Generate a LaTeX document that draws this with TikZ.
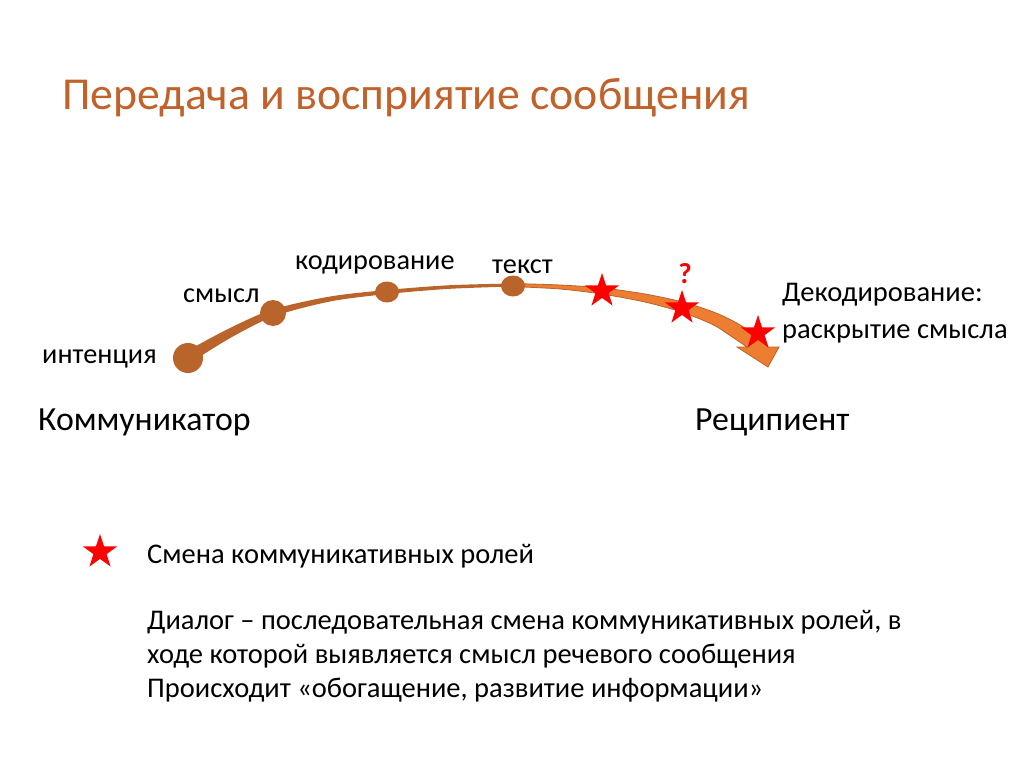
\documentclass[tikz,border=0pt]{standalone}
\usepackage{fontspec}
\setmainfont{Carlito}
\usetikzlibrary{shapes.geometric}
\definecolor{titlec}{RGB}{192,98,42}
\definecolor{dotc}{RGB}{185,100,42}
\definecolor{bandc}{RGB}{237,125,49}
\definecolor{starc}{RGB}{255,0,0}
\tikzset{
  lbl/.style={anchor=base west,inner sep=0pt,font=\fontsize{28.3}{34}\selectfont},
  big/.style={anchor=base west,inner sep=0pt,font=\fontsize{33.8}{40}\selectfont},
  body/.style={anchor=base west,inner sep=0pt,font=\fontsize{28.5}{34}\selectfont},
  dot/.style={circle,fill=dotc,inner sep=0pt},
  redstar/.style={star,star points=5,star point ratio=2.6,fill=starc,inner sep=0pt,minimum size=36pt},
}
\begin{document}
\begin{tikzpicture}[x=1pt,y=-1pt]
\useasboundingbox (0,0) rectangle (1024,767);
\fill[white] (0,0) rectangle (1024,767);
% title
\node[anchor=base west,inner sep=0pt,text=titlec,font=\fontsize{45.7}{52}\selectfont] (title) at (62,110) {Передача и восприятие сообщения};
% band left part (brown)
\fill[dotc] plot[smooth] coordinates {(187,351) (227.8,329.1) (271.7,309.8) (329.5,296.6) (386.8,290) (450,285.2) (513,283.5)}
  -- plot[smooth] coordinates {(513,286.5) (450,288.8) (387.2,294) (330.5,301.4) (274.3,316.2) (232.2,336.9) (193,361)} -- cycle;
% band right part (orange) with arrowhead
\filldraw[fill=bandc,draw=dotc,line width=0.8pt,line join=miter] plot[smooth] coordinates {(512,283.5) (560,285) (602.5,288) (646.1,294.2) (683.9,302.4) (717.7,313.7) (745,328) (768,347)}
  -- (779,347) -- (768,367) -- (737,347) -- (747,347)
  -- plot[smooth] coordinates {(747,347) (730,335.5) (712.3,324.3) (680.1,311.6) (643.9,301.8) (601.5,294) (560,289) (512,286.5)} -- cycle;
% dots
\node[dot,minimum size=30pt] (d1) at (188,358) {};
\node[dot,minimum size=26pt] (d2) at (273,313) {};
\node[dot,minimum width=24pt,minimum height=21pt,ellipse] (d3) at (387,292) {};
\node[dot,minimum width=24pt,minimum height=21pt,ellipse] (d4) at (513,286) {};
% stars
\node[redstar] (s1) at (602,291) {};
\node[redstar] (s2) at (682,308) {};
\node[redstar] (s3) at (758,333) {};
\node[anchor=base,inner sep=0pt,text=starc,font=\fontsize{29}{34}\selectfont\bfseries] (q) at (685,283) {?};
% labels
\node[lbl] (l1) at (42,363) {интенция};
\node[lbl] (l2) at (183,302) {смысл};
\node[lbl] (l3) at (295,269) {кодирование};
\node[lbl] (l4) at (492,273) {текст};
\node[body] (l5) at (782,301) {Декодирование:};
\node[body] (l6) at (782,338) {раскрытие смысла};
\node[big] (c1) at (38,430) {Коммуникатор};
\node[big] (c2) at (695,430) {Реципиент};
% legend
\node[redstar] (ls) at (100,552) {};
\node[body] (lt) at (147,563) {Смена коммуникативных ролей};
\node[body] (p1) at (147,629) {Диалог – последовательная смена коммуникативных ролей, в};
\node[body] (p2) at (147,663) {ходе которой выявляется смысл речевого сообщения};
\node[body] (p3) at (147,697) {Происходит «обогащение, развитие информации»};
\end{tikzpicture}
\end{document}
